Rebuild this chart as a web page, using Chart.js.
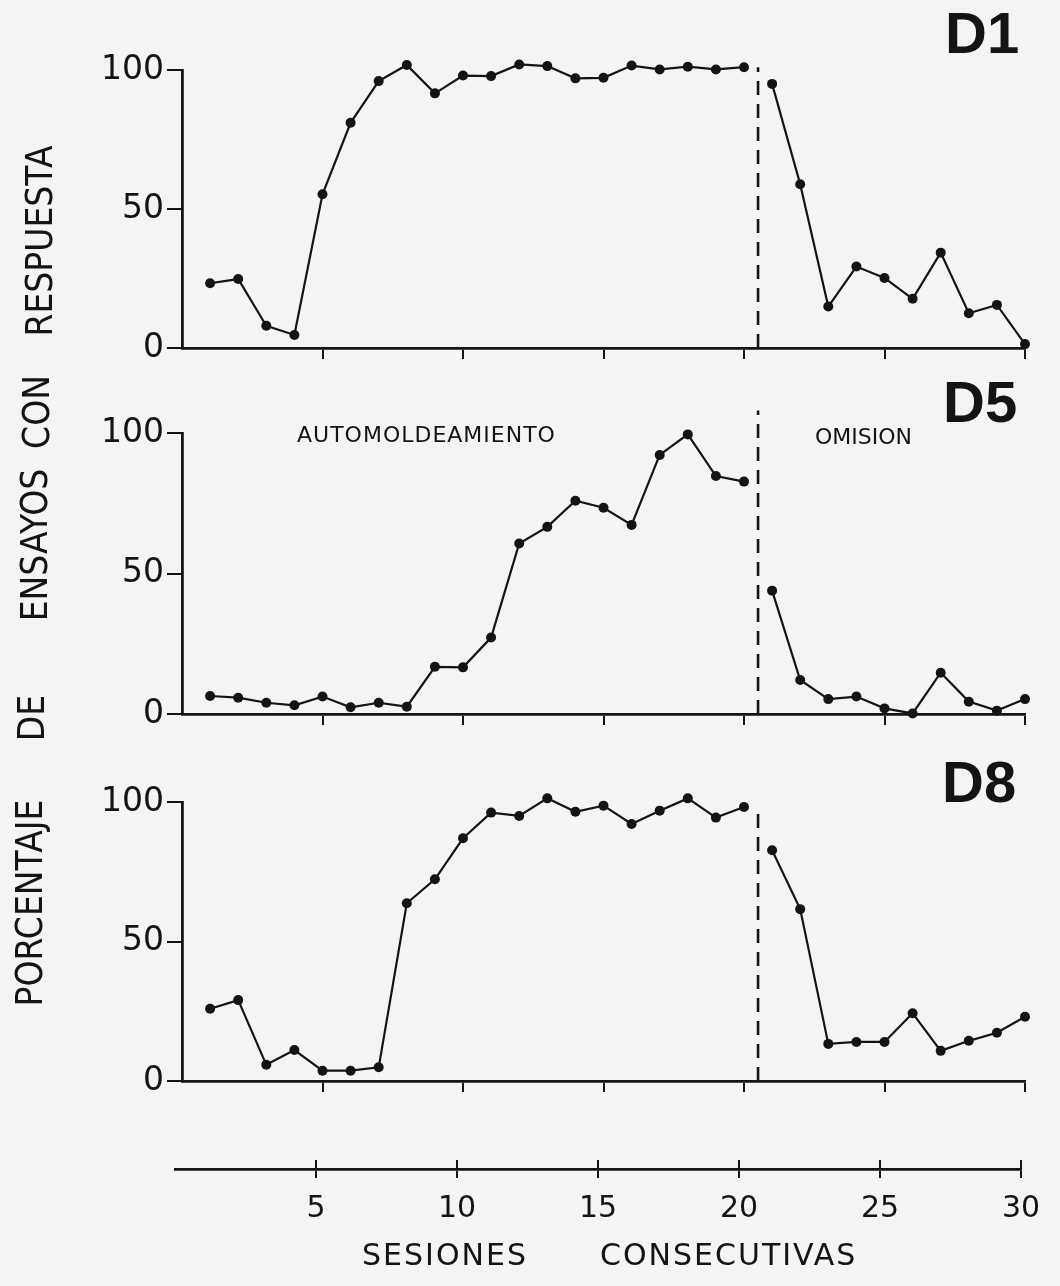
<!DOCTYPE html>
<html lang="es">
<head>
<meta charset="utf-8">
<title>Automoldeamiento y omisión — D1, D5, D8</title>
<script src="https://cdn.jsdelivr.net/npm/chart.js@4.4.1/dist/chart.umd.min.js"></script>
<style>
  html, body { margin: 0; padding: 0; background: #f4f4f2; }
  #fig { position: relative; width: 1060px; height: 1286px; overflow: hidden; color: #141414;
         font-family: 'DejaVu Sans', 'Liberation Sans', sans-serif; }
  #fig canvas { position: absolute; left: 0; }
  .tag { position: absolute; font-family: 'Liberation Sans', Arial, sans-serif; font-weight: bold;
         font-size: 58px; line-height: 1; white-space: nowrap; }
  .phase { position: absolute; font-size: 22px; line-height: 1; white-space: nowrap; }
  .xtitle { position: absolute; font-size: 30px; line-height: 1; letter-spacing: 2px; white-space: nowrap; }
  .ytitle { position: absolute; font-size: 38px; line-height: 1; white-space: nowrap;
            transform: translate(-50%, -50%) rotate(-90deg) scaleX(.87); }
</style>
</head>
<body>
<div id="fig">
  <canvas id="c-d1" width="1060" height="372" style="top:0"></canvas>
  <canvas id="c-d5" width="1060" height="358" style="top:380px"></canvas>
  <canvas id="c-d8" width="1060" height="365" style="top:740px"></canvas>
  <canvas id="c-x" width="1060" height="90" style="top:1150px"></canvas>

  <div class="tag" style="left:945px; top:4px">D1</div>
  <div class="tag" style="left:943px; top:373px">D5</div>
  <div class="tag" style="left:942px; top:753px">D8</div>

  <div class="phase" style="left:297px; top:424px; letter-spacing:1px">AUTOMOLDEAMIENTO</div>
  <div class="phase" style="left:815px; top:426px">OMISION</div>

  <div class="xtitle" style="left:362px; top:1240px">SESIONES</div>
  <div class="xtitle" style="left:600px; top:1240px">CONSECUTIVAS</div>

  <div class="ytitle" style="left:39px; top:241px">RESPUESTA</div>
  <div class="ytitle" style="left:36px; top:412px">CON</div>
  <div class="ytitle" style="left:34px; top:545px">ENSAYOS</div>
  <div class="ytitle" style="left:31px; top:718px">DE</div>
  <div class="ytitle" style="left:29px; top:903px">PORCENTAJE</div>
</div>

<script>
(function () {
  'use strict';

  var INK = '#141414';
  var FONT = "'DejaVu Sans', 'Liberation Sans', sans-serif";

  /* ---- datos: % de ensayos con respuesta por sesión ---- */
  var SESSIONS = [1, 2, 3, 4, 5, 6, 7, 8, 9, 10, 11, 12, 13, 14, 15,
                  16, 17, 18, 19, 20, 21, 22, 23, 24, 25, 26, 27, 28, 29, 30];
  var D1 = [23.3, 24.8, 8.0, 4.7, 55.3, 81.0, 96.0, 101.8, 91.6, 98.0,
            97.8, 102.0, 101.4, 97.0, 97.2, 101.6, 100.2, 101.2, 100.2, 101.0,
            95.0, 58.9, 14.9, 29.3, 25.2, 17.7, 34.3, 12.5, 15.5, 1.4];
  var D5 = [6.4, 5.8, 4.0, 3.1, 6.2, 2.4, 4.0, 2.6, 16.8, 16.6,
            27.2, 60.7, 66.6, 75.9, 73.4, 67.3, 92.2, 99.5, 84.7, 82.7,
            43.9, 12.1, 5.3, 6.2, 2.0, 0.2, 14.7, 4.4, 1.2, 5.3];
  var D8 = [25.9, 29.0, 5.8, 11.1, 3.7, 3.7, 4.9, 63.7, 72.3, 87.0,
            96.2, 95.0, 101.3, 96.5, 98.7, 92.1, 96.9, 101.3, 94.4, 98.2,
            82.7, 61.6, 13.3, 14.0, 14.0, 24.3, 10.8, 14.4, 17.3, 23.0];

  var PHASE_SPLIT = 20.5;               // automoldeamiento | omisión
  var SPLIT_TOP = [101, 108, 98];       // alto de la línea punteada en D1, D5, D8
  var X_TICKS = [5, 10, 15, 20, 25, 30];
  var Y_TICKS = [0, 50, 100];

  function fixedTicks(list) {
    return function (scale) { scale.ticks = list.map(function (v) { return { value: v }; }); };
  }

  // puntos con un hueco en el cambio de fase (la curva no se une entre 20 y 21)
  function toPoints(vals) {
    var pts = [];
    vals.forEach(function (v, i) {
      if (i > 0 && SESSIONS[i - 1] < PHASE_SPLIT && SESSIONS[i] > PHASE_SPLIT) {
        pts.push({ x: PHASE_SPLIT, y: null });
      }
      pts.push({ x: SESSIONS[i], y: v });
    });
    return pts;
  }

  function panel(id, vals, splitTop, padTop) {
    return new Chart(document.getElementById(id), {
      type: 'line',
      data: {
        datasets: [
          // pointHoverRadius amplía el margen para que los puntos >100 no se omitan
          { data: toPoints(vals), borderColor: INK, borderWidth: 2.2, tension: 0,
            pointRadius: 5, pointHoverRadius: 10, pointBackgroundColor: INK, pointBorderWidth: 0,
            spanGaps: false, clip: false },
          { data: [{ x: PHASE_SPLIT, y: 0 }, { x: PHASE_SPLIT, y: splitTop }],
            borderColor: INK, borderWidth: 2.6, borderDash: [14, 9], pointRadius: 0, clip: false },
        ],
      },
      options: {
        responsive: false, animation: false, events: [],
        layout: { padding: { top: padTop, right: 35, left: 0, bottom: 0 } },
        plugins: { legend: { display: false }, tooltip: { enabled: false } },
        scales: {
          x: {
            type: 'linear', min: 0, max: 30,
            afterBuildTicks: fixedTicks(X_TICKS),
            afterFit: function (s) { s.height = 24; },
            ticks: { display: false },
            grid: { drawOnChartArea: false, drawTicks: true, tickLength: 11, color: INK, lineWidth: 2 },
            border: { display: true, color: INK, width: 2.8 },
          },
          y: {
            type: 'linear', min: 0, max: 100,
            afterBuildTicks: fixedTicks(Y_TICKS),
            afterFit: function (s) { s.width = 182; },
            ticks: { color: INK, font: { family: FONT, size: 33 }, padding: 3 },
            grid: { drawOnChartArea: false, drawTicks: true, tickLength: 15, color: INK, lineWidth: 2 },
            border: { display: true, color: INK, width: 2.8 },
          },
        },
      },
    });
  }

  panel('c-d1', D1, SPLIT_TOP[0], 70);
  panel('c-d5', D5, SPLIT_TOP[1], 53);
  panel('c-d8', D8, SPLIT_TOP[2], 62);

  /* ---- eje común de sesiones (marcas cruzadas) ---- */
  new Chart(document.getElementById('c-x'), {
    type: 'line',
    data: { datasets: [] },
    options: {
      responsive: false, animation: false, events: [],
      layout: { padding: { top: 10, right: 39, left: 175, bottom: 0 } },
      plugins: { legend: { display: false }, tooltip: { enabled: false } },
      scales: {
        x: {
          type: 'linear', min: 0, max: 30, position: 'bottom',
          afterBuildTicks: fixedTicks(X_TICKS),
          afterFit: function (s) { s.height = 71; },
          ticks: { color: INK, font: { family: FONT, size: 30 }, padding: 13, maxRotation: 0, autoSkip: false },
          grid: { drawOnChartArea: true, drawTicks: true, tickLength: 9, color: INK, lineWidth: 2 },
          border: { display: true, color: INK, width: 2.8 },
        },
        y: { display: false, min: 0, max: 1 },
      },
    },
  });
})();
</script>
</body>
</html>
